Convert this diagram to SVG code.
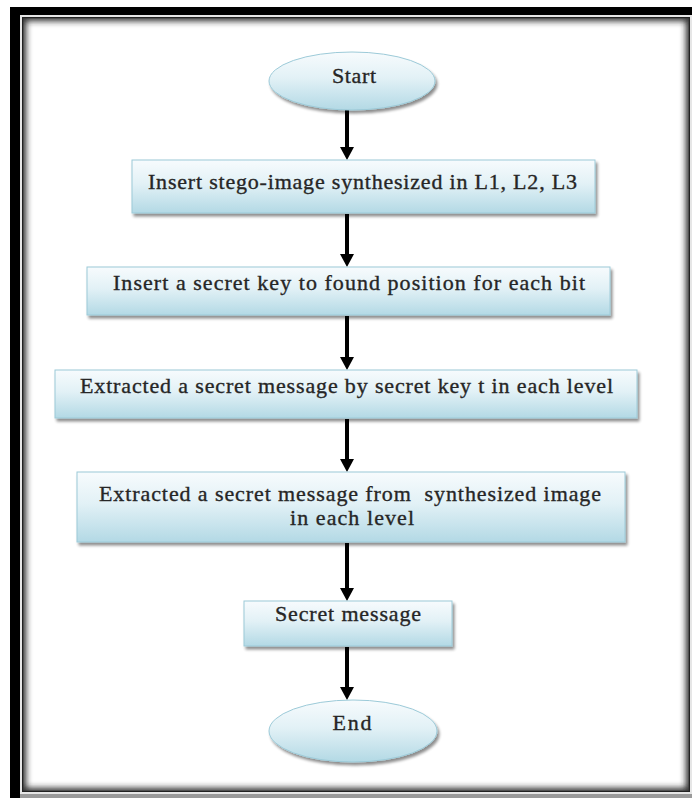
<svg xmlns="http://www.w3.org/2000/svg" width="692" height="798" viewBox="0 0 692 798">
  <defs>
    <linearGradient id="fillBlue" x1="0" y1="0" x2="0" y2="1">
      <stop offset="0" stop-color="#f7fbfd"/>
      <stop offset="0.45" stop-color="#e2f1f6"/>
      <stop offset="1" stop-color="#b3d9e5"/>
    </linearGradient>
    <filter id="drop" x="-10%" y="-20%" width="130%" height="160%">
      <feGaussianBlur in="SourceAlpha" stdDeviation="1.6"/>
      <feOffset dx="2" dy="3" result="b"/>
      <feComponentTransfer><feFuncA type="linear" slope="0.45"/></feComponentTransfer>
      <feMerge><feMergeNode/><feMergeNode in="SourceGraphic"/></feMerge>
    </filter>
    <filter id="soft" x="-5%" y="-5%" width="110%" height="110%">
      <feGaussianBlur stdDeviation="3"/>
    </filter>
    <clipPath id="innerClip">
      <rect x="22" y="17" width="668" height="775"/>
    </clipPath>
    <marker id="head" viewBox="0 0 14 13" refX="7" refY="13" markerWidth="14" markerHeight="13" markerUnits="userSpaceOnUse" orient="auto-start-reverse">
      <path d="M0,0 L14,0 L7,13 Z" fill="#000"/>
    </marker>
    <style>
      .box { fill: url(#fillBlue); stroke: #9ccad8; stroke-width: 1; filter: url(#drop); }
      .lbl { font-family: "Liberation Serif", "Times New Roman", serif; font-size: 22px; fill: #262626; stroke: #262626; stroke-width: 0.35; text-anchor: middle; }
      .arrow { stroke: #000; stroke-width: 4; fill: none; }
    </style>
  </defs>

  <!-- page frame -->
  <g id="frame">
    <rect x="0" y="0" width="692" height="798" fill="#ffffff"/>
    <rect x="10" y="7" width="682" height="791" fill="#000"/>
    <rect x="20" y="15" width="672" height="783" fill="#e6e6e6"/>
    <rect x="20" y="794" width="672" height="4" fill="#9a9a9a"/>
    <rect x="22" y="17" width="668" height="775" fill="#fff"/>
    <g clip-path="url(#innerClip)">
      <rect x="22" y="17" width="668" height="775" fill="none" stroke="#2a2a2a" stroke-width="8" filter="url(#soft)"/>
      <rect x="22.5" y="17.5" width="667" height="774" fill="none" stroke="#222" stroke-width="1.5"/>
    </g>
  </g>

  <!-- connectors -->
  <g id="connectors">
    <line class="arrow" x1="347" y1="110" x2="347" y2="148"/>
    <path d="M340,147 L354,147 L347,160 Z"/>
    <line class="arrow" x1="347" y1="214" x2="347" y2="255"/>
    <path d="M340,254 L354,254 L347,267 Z"/>
    <line class="arrow" x1="347" y1="316" x2="347" y2="358"/>
    <path d="M340,357 L354,357 L347,370 Z"/>
    <line class="arrow" x1="347" y1="419" x2="347" y2="460"/>
    <path d="M340,459 L354,459 L347,472 Z"/>
    <line class="arrow" x1="347" y1="543" x2="347" y2="589"/>
    <path d="M340,588 L354,588 L347,601 Z"/>
    <line class="arrow" x1="347" y1="647" x2="347" y2="688"/>
    <path d="M340,687 L354,687 L347,700 Z"/>
  </g>

  <g id="start">
    <ellipse class="box" cx="352" cy="81" rx="83" ry="29"/>
    <text class="lbl" x="354" y="83" textLength="44">Start</text>
  </g>

  <g id="step1">
    <rect class="box" x="132" y="160" width="463" height="53"/>
    <text class="lbl" x="362.5" y="189" textLength="429">Insert stego-image synthesized in L1, L2, L3</text>
  </g>

  <g id="step2">
    <rect class="box" x="87" y="267" width="523" height="48"/>
    <text class="lbl" x="349" y="290" textLength="472">Insert a secret key to found position for each bit</text>
  </g>

  <g id="step3">
    <rect class="box" x="55" y="370" width="582" height="48"/>
    <text class="lbl" x="346.5" y="393" textLength="533">Extracted a secret message by secret key t in each level</text>
  </g>

  <g id="step4">
    <rect class="box" x="77" y="472" width="548" height="70"/>
    <text class="lbl" x="350" y="501" textLength="502" xml:space="preserve">Extracted a secret message from  synthesized image</text>
    <text class="lbl" x="352" y="525" textLength="124">in each level</text>
  </g>

  <g id="result">
    <rect class="box" x="244" y="601" width="208" height="45"/>
    <text class="lbl" x="348" y="621" textLength="146">Secret message</text>
  </g>

  <g id="end">
    <ellipse class="box" cx="353" cy="731" rx="84" ry="31"/>
    <text class="lbl" x="352" y="730" textLength="39">End</text>
  </g>
</svg>
